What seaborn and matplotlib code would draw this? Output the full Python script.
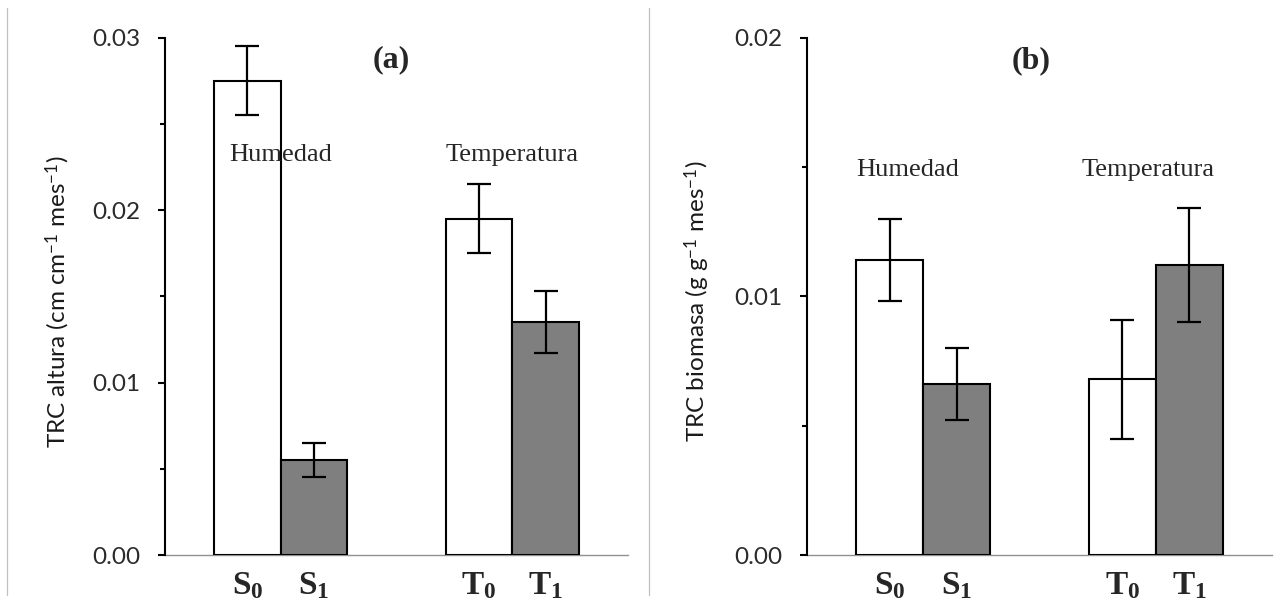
import matplotlib
matplotlib.use("Agg")
import matplotlib.pyplot as plt
from matplotlib.lines import Line2D
from matplotlib.ticker import MultipleLocator, FormatStrFormatter
import seaborn as sns
import pandas as pd

# ---- data ----
groups = ["Humedad", "Temperatura"]
levels = ["0", "1"]
tick_labels = [r"$\mathbf{S_0}$", r"$\mathbf{S_1}$", r"$\mathbf{T_0}$", r"$\mathbf{T_1}$"]
# order: S0, S1, T0, T1
altura_mean = [0.0275, 0.0055, 0.0195, 0.0135]
altura_err = [0.0020, 0.0010, 0.0020, 0.0018]
biomasa_mean = [0.0114, 0.0066, 0.0068, 0.0112]
biomasa_err = [0.0016, 0.0014, 0.0023, 0.0022]

sns.set_theme(style="ticks")
plt.rcParams["font.family"] = ["Lato", "DejaVu Sans"]
plt.rcParams["mathtext.fontset"] = "custom"
plt.rcParams["mathtext.rm"] = "Liberation Serif"
plt.rcParams["mathtext.bf"] = "Liberation Serif:bold"
plt.rcParams["mathtext.it"] = "Liberation Serif:italic"

W, H = 1275, 611
fig = plt.figure(figsize=(W / 100, H / 100), dpi=100)

def make_df(means):
    rows = []
    i = 0
    for g in groups:
        for l in levels:
            rows.append({"grupo": g, "nivel": l, "valor": means[i]})
            i += 1
    return pd.DataFrame(rows)

panels = [
    dict(x0=165, x1=628, means=altura_mean, errs=altura_err, ymax=0.03,
         ylabel=r"TRC altura (cm cm$^{\mathregular{-1}}$ mes$^{\mathregular{-1}}$)",
         lx=-0.201,
         tag="(a)", tagpos=(0.476, 0.0287), hum=(0.0, 0.0232), tem=(1.0, 0.0232)),
    dict(x0=807, x1=1272, means=biomasa_mean, errs=biomasa_err, ymax=0.02,
         ylabel=r"TRC biomasa (g g$^{\mathregular{-1}}$ mes$^{\mathregular{-1}}$)",
         lx=-0.204,
         tag="(b)", tagpos=(0.466, 0.0191), hum=(-0.066, 0.01488), tem=(0.967, 0.01488)),
]

y_top, y_bot = 37.5, 555
for p in panels:
    ax = fig.add_axes([p["x0"] / W, (H - y_bot) / H, (p["x1"] - p["x0"]) / W, (y_bot - y_top) / H])
    df = make_df(p["means"])
    sns.barplot(data=df, x="grupo", y="valor", hue="nivel", order=groups, hue_order=levels,
                palette={"0": "white", "1": "#7f7f7f"}, edgecolor="black", linewidth=1.5,
                width=0.575, errorbar=None, legend=False, ax=ax, zorder=2)
    centers = []
    for gi in range(len(groups)):
        for li, cont in enumerate(ax.containers):
            bar = cont[gi]
            centers.append(bar.get_x() + bar.get_width() / 2)
    ax.errorbar(centers, p["means"], yerr=p["errs"], fmt="none", ecolor="black",
                elinewidth=1.6, capsize=8.5, capthick=1.6, zorder=4)
    ax.set_xlim(-0.5, 1.5)
    ax.set_ylim(0, p["ymax"])
    ax.yaxis.set_major_locator(MultipleLocator(0.01))
    ax.yaxis.set_minor_locator(MultipleLocator(0.005))
    ax.yaxis.set_major_formatter(FormatStrFormatter("%.2f"))
    ax.tick_params(axis="y", which="major", length=5, width=1.5, direction="out",
                   labelsize=17.5, pad=13, colors="black", labelcolor="#2b2b2b")
    ax.tick_params(axis="y", which="minor", length=3.6, width=1.5, direction="out", colors="black")
    ax.set_xticks(centers)
    ax.set_xticklabels(tick_labels, fontsize=24)
    ax.tick_params(axis="x", length=0, pad=11)
    ax.set_xlabel("")
    ax.set_ylabel(p["ylabel"], fontsize=17.5, color="#1a1a1a")
    ax.yaxis.set_label_coords(p["lx"], 0.49)
    for s in ["top", "right"]:
        ax.spines[s].set_visible(False)
    ax.spines["left"].set_linewidth(1.5)
    ax.spines["left"].set_color("black")
    ax.spines["bottom"].set_color("#909090")
    ax.spines["bottom"].set_linewidth(1.0)
    ax.spines["bottom"].set_zorder(0.5)
    ax.grid(False)
    ax.text(p["tagpos"][0], p["tagpos"][1], p["tag"], ha="center", va="center",
            fontsize=23, fontweight="bold", family="Liberation Serif")
    ax.text(p["hum"][0], p["hum"][1], "Humedad", ha="center", va="center",
            fontsize=19, family="Liberation Serif", zorder=5)
    ax.text(p["tem"][0], p["tem"][1], "Temperatura", ha="center", va="center",
            fontsize=19, family="Liberation Serif", zorder=5)

# chart-area frame lines
for xp in (7, 649):
    fig.add_artist(Line2D([xp / W, xp / W], [1 - 8 / H, 1 - 595 / H], color="#c0c0c0", lw=0.9))

fig.savefig("out.png", dpi=100)
